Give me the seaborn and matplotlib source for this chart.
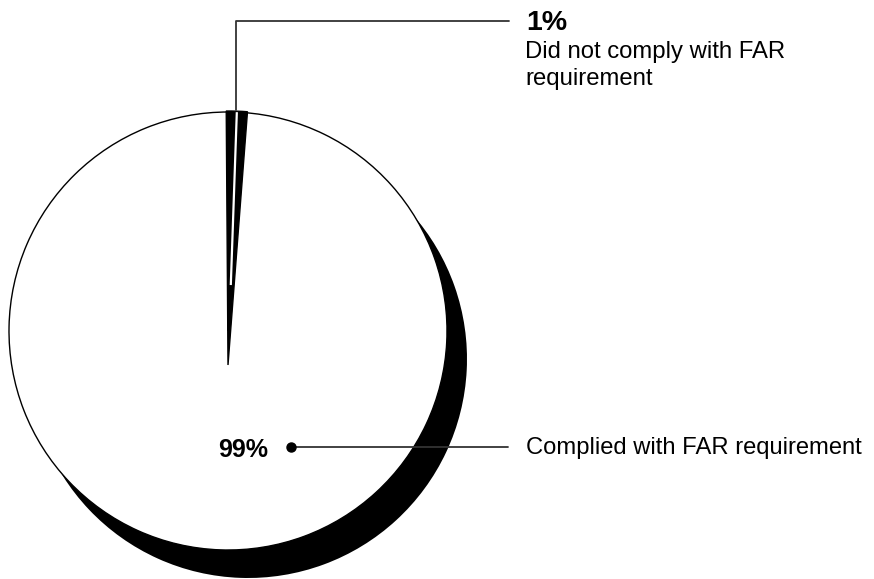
import matplotlib
matplotlib.use("Agg")
import matplotlib.pyplot as plt
import seaborn as sns
import numpy as np

sns.set_theme(style="white")
plt.rcParams['font.family'] = ['Liberation Sans', 'DejaVu Sans']

# Data
categories = ["Did not comply with FAR\nrequirement", "Complied with FAR requirement"]
shares = [1, 99]
share_labels = ["1%", "99%"]
slice_colors = ["black", "white"]

W, H = 874, 579
fig = plt.figure(figsize=(W / 100, H / 100), dpi=100)
ax = fig.add_axes([0, 0, 1, 1])

def Y(py):
    return H - py

R = 219
cx, cy = 228, Y(331)
start = 86.2

# shadow
ax.pie(shares, radius=R, center=(cx + 20, Y(359)), startangle=start,
       colors=["black", "black"], wedgeprops=dict(linewidth=0), frame=True)

# main pie
wedges, _ = ax.pie(shares, radius=R, center=(cx, cy), startangle=start,
                   colors=slice_colors,
                   wedgeprops=dict(edgecolor="black", linewidth=1.0), frame=True)
# small slice drawn as extruded sliver
small = wedges[0]
tip_y = Y(365)
L = Y(111) - tip_y
small.set_center((cx, tip_y))
small.set_radius(L)
small.set_edgecolor("black")
small.set_zorder(5)
small.set_theta1(small.theta1 - 0.6)
small.set_theta2(small.theta2 + 0.6)
mid = (small.theta1 + small.theta2) / 2
ax.plot([cx + 80 * np.cos(np.radians(mid)), cx + (L - 1) * np.cos(np.radians(mid))],
        [tip_y + 80 * np.sin(np.radians(mid)), tip_y + (L - 1) * np.sin(np.radians(mid))],
        color="white", lw=1.6, zorder=6, solid_capstyle='butt')

ax.set_xlim(0, W)
ax.set_ylim(0, H)
ax.set_aspect('equal')
ax.axis('off')

# leader for 1%
ax.plot([236, 236, 509], [Y(110), Y(21), Y(21)], color="#333333", lw=1.3, zorder=7)
ax.text(526, Y(30), share_labels[0], fontsize=20.5, fontweight='bold', ha='left', va='baseline', color='black')
ax.text(525, Y(58), categories[0].split("\n")[0], fontsize=17.2, ha='left', va='baseline', color='black')
ax.text(525, Y(85), categories[0].split("\n")[1], fontsize=17.2, ha='left', va='baseline', color='black')

# leader for 99%
ax.plot([291, 508], [Y(447), Y(447)], color="#333333", lw=1.3, zorder=7)
ax.plot([291], [Y(447)], marker='o', markersize=6.5, color='black', zorder=8)
ax.text(218, Y(457), share_labels[1], fontsize=18, fontweight='bold', ha='left', va='baseline', color='black', zorder=8)
ax.text(526, Y(454), categories[1], fontsize=17.1, ha='left', va='baseline', color='black')

fig.savefig("out.png", dpi=100, facecolor='white')
